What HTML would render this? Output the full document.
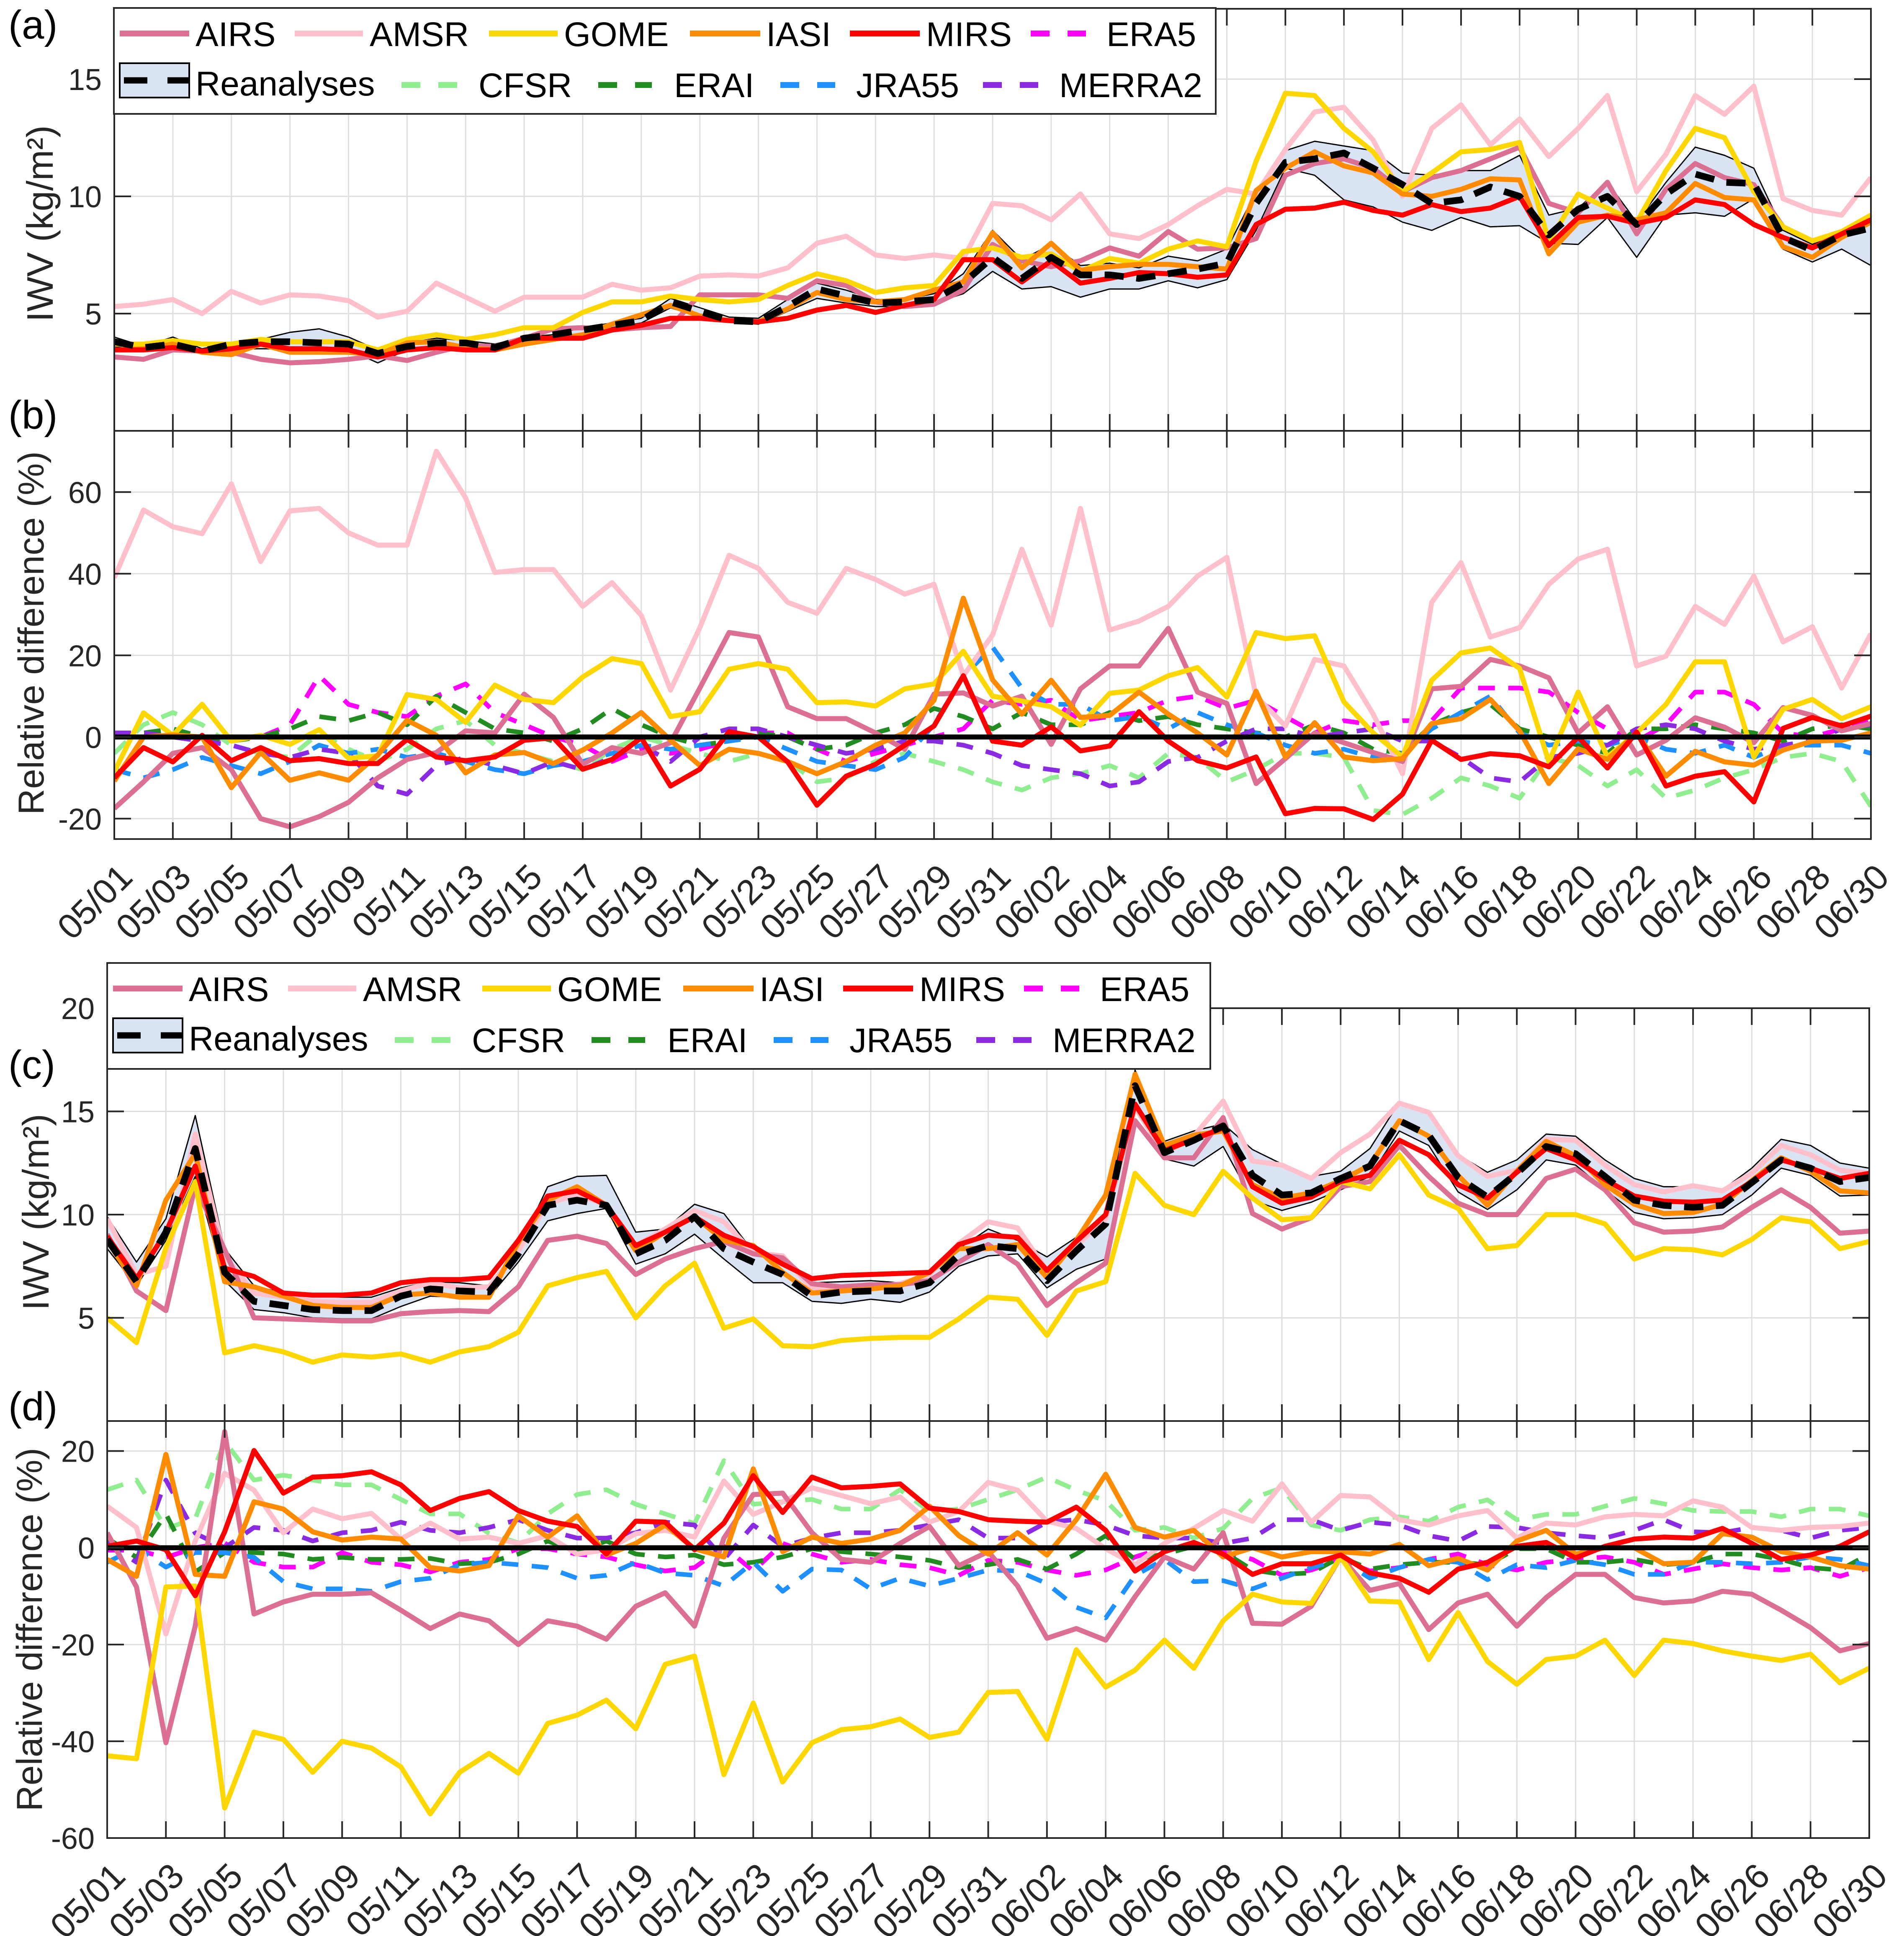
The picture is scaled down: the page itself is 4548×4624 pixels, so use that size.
<!DOCTYPE html>
<html><head><meta charset="utf-8"><title>IWV comparison</title>
<style>
html,body{margin:0;padding:0;background:#fff;}
svg{display:block;font-family:"Liberation Sans",Arial,sans-serif;}
</style></head>
<body>
<svg id="chart" width="4548" height="4624" viewBox="0 0 4548 4624" xmlns="http://www.w3.org/2000/svg">
<rect x="0" y="0" width="4548" height="4624" fill="#fff"/>
<g id="layer-data"></g>
<g id="layer-text" fill="#000">
<text x="20" y="92" font-size="96">(a)</text>
<text x="20" y="1024" font-size="96">(b)</text>
<text x="20" y="2576" font-size="96">(c)</text>
<text x="20" y="3392" font-size="96">(d)</text>
<text transform="translate(126,534) rotate(-90)" text-anchor="middle" font-size="88" fill="#262626">IWV (kg/m²)</text>
<text transform="translate(104,1512) rotate(-90)" text-anchor="middle" font-size="86" fill="#262626">Relative difference (%)</text>
<text transform="translate(116,2895) rotate(-90)" text-anchor="middle" font-size="88" fill="#262626">IWV (kg/m²)</text>
<text transform="translate(100,3892) rotate(-90)" text-anchor="middle" font-size="86" fill="#262626">Relative difference (%)</text>
</g>
</svg>
<script>
// ---------- data ----------
const dateLabels = ['05/01','05/03','05/05','05/07','05/09','05/11','05/13','05/15','05/17','05/19','05/21','05/23','05/25','05/27','05/29','05/31','06/02','06/04','06/06','06/08','06/10','06/12','06/14','06/16','06/18','06/20','06/22','06/24','06/26','06/28','06/30'];
const tickA = [5,10,15];
const tickB = [-20,0,20,40,60];
const tickC = [5,10,15,20];
const tickD = [-60,-40,-20,0,20];

// panel (a) IWV
const aAIRS = [3.15,3.05,3.45,3.4,3.35,3.05,2.9,2.95,3.05,3.2,3.0,3.35,3.65,3.6,3.95,4.35,4.4,4.3,4.4,4.45,5.8,5.8,5.8,5.65,6.4,6.2,5.5,5.3,5.4,6.0,7.95,7.25,7.0,7.25,7.8,7.45,8.5,7.75,7.8,8.2,10.9,11.4,11.6,11.2,10.2,10.8,11.1,11.6,12.1,9.7,9.3,10.6,8.4,10.3,11.4,10.8,10.5,8.7,8.1,8.5,9.0];
const aAMSR = [5.3,5.4,5.6,5.0,5.95,5.45,5.8,5.75,5.55,4.85,5.1,6.3,5.7,5.1,5.7,5.7,5.7,6.25,6.0,6.1,6.6,6.65,6.6,6.95,8.0,8.3,7.5,7.35,7.5,7.35,9.7,9.6,9.0,10.1,8.4,8.2,8.8,9.6,10.3,10.1,12.0,13.6,13.8,12.4,10.0,12.9,13.9,12.2,13.3,11.7,12.9,14.3,10.2,11.8,14.3,13.5,14.7,9.9,9.4,9.2,10.8];
const aGOME = [3.7,3.7,3.85,3.7,3.7,3.9,3.8,3.8,3.8,3.45,3.9,4.1,3.9,4.1,4.4,4.4,5.05,5.5,5.5,5.75,5.6,5.5,5.6,6.2,6.7,6.4,5.9,6.1,6.2,7.65,7.8,7.4,7.55,6.8,7.35,7.15,7.75,8.1,7.85,11.5,14.4,14.3,12.9,11.9,10.2,11.0,11.9,12.0,12.3,8.1,10.1,9.5,8.9,11.1,12.9,12.5,10.2,8.7,8.1,8.5,9.2];
const aIASI = [3.45,3.5,3.7,3.35,3.25,3.7,3.35,3.35,3.35,3.25,3.75,3.8,3.55,3.45,3.7,3.9,4.1,4.55,4.95,5.35,4.9,4.7,4.65,5.2,5.9,5.6,5.5,5.6,6.0,6.35,8.45,6.95,8.0,6.85,7.0,7.1,7.1,7.0,6.9,10.25,11.2,11.9,11.3,11.0,10.1,10.0,10.3,10.75,10.7,7.55,8.9,9.2,9.0,9.3,10.55,9.95,9.85,7.85,7.4,8.25,8.9];
const aMIRS = [3.45,3.45,3.55,3.4,3.5,3.7,3.5,3.5,3.45,3.15,3.45,3.55,3.45,3.45,3.95,3.95,3.95,4.3,4.5,4.8,4.8,4.7,4.65,4.8,5.15,5.35,5.05,5.35,5.6,7.3,7.3,6.35,7.25,6.3,6.5,6.75,6.7,6.55,6.65,8.8,9.45,9.5,9.75,9.4,9.2,9.65,9.35,9.5,10.0,7.9,9.1,9.15,8.85,9.1,9.85,9.65,8.8,8.25,7.8,8.4,9.0];
const aMean = [3.8,3.55,3.7,3.4,3.7,3.8,3.8,3.75,3.7,3.3,3.6,3.75,3.75,3.55,3.95,4.1,4.3,4.5,4.7,5.5,5.1,4.7,4.65,5.3,6.05,5.75,5.45,5.5,5.6,6.3,7.4,6.5,7.4,6.65,6.65,6.5,6.7,6.9,7.15,9.7,11.45,11.6,11.85,11.2,10.5,9.7,9.85,10.4,10.0,8.35,9.45,10.0,8.8,10.1,10.95,10.6,10.55,8.25,7.7,8.35,8.65];
const aMax = [4.0,3.6,4.0,3.5,3.75,3.9,4.2,4.35,4.0,3.45,3.75,3.95,3.85,3.7,4.0,4.1,4.4,4.6,4.8,5.65,5.25,4.85,4.8,5.6,6.3,6.0,5.6,5.6,5.85,6.7,8.55,7.3,7.95,7.05,7.15,6.95,7.45,7.25,7.75,10.2,11.95,12.35,12.15,11.95,11.0,10.9,11.1,11.1,11.75,9.2,9.5,10.6,8.9,10.6,12.1,11.75,11.2,8.55,7.95,8.5,9.0];
const aMin = [3.6,3.4,3.55,3.3,3.5,3.5,3.5,3.5,3.45,2.9,3.45,3.55,3.5,3.45,3.85,3.85,4.05,4.4,4.6,5.25,4.85,4.65,4.55,5.1,5.65,5.45,5.3,5.3,5.45,5.85,6.8,6.05,6.15,5.7,6.05,6.05,6.4,6.1,6.45,8.55,11.2,10.9,9.85,9.55,8.9,8.55,9.1,8.7,8.75,8.0,7.95,9.1,7.4,9.2,9.3,9.15,9.9,7.75,7.2,7.75,7.05];

// panel (b) relative difference (%)
const bAIRS = [-17.5,-11,-4,-2.6,-8,-20,-22,-19.5,-16,-10,-5.5,-3.8,1.5,1,10.5,4.8,-6.7,-2.6,-4,-1.4,12,25.6,24.5,7.4,4.5,4.5,1,-3,10.5,10.8,7.6,10,-1.8,11.8,17.4,17.4,26.6,11,8.2,-11.4,-5.3,1,-1.4,-3.8,-6,11.8,12.4,19,17.4,14.5,1,7.4,-4.4,-0.8,4.7,2.4,-1.4,7.2,5.3,1.5,3.3];
const bAMSR = [39,55.6,51.5,49.8,62,43,55.4,56,50,47,47,70,58.6,40.3,41,41,32,37.8,29.8,11.5,26.8,44.5,41.3,33,30.3,41.3,38.6,35,37.4,15,25,46,27.4,56,26.2,28.4,32,39.4,44,10,2.7,19,17.4,5.6,-9,33,42.7,24.5,26.8,37.4,43.6,46,17.4,19.8,32,27.6,39.4,23.3,27,12,25.3];
const bGOME = [-8.5,5.9,0.4,8,-1,0.4,-1.8,1.8,-5.2,-4.6,10.4,9.2,3.6,12.7,9.2,8.4,14.7,19.2,18,5,6.2,16.6,18,16.6,8.4,8.6,7.6,11.8,13,21,10,8.8,7.4,2.9,10.7,11.5,15,17,9.8,25.6,24.1,24.8,8.6,1,-4.9,13.9,20.6,21.8,16.8,-6.1,11,-4.9,1,8,18.4,18.4,-4.9,6.8,9.2,4.5,7.4];
const bIASI = [-10.8,0,0.5,0,-12.4,-3.8,-10.6,-8.8,-10.6,-4.4,4.1,0.4,-8.8,-4.4,-3.8,-6.5,-3.2,1,6,-0.8,-7,-3,-4,-6,-9,-6,-2,1,9,34,14,5.6,13.9,4.8,5.3,11,5.6,1,-4.4,11.2,-4.9,3.5,-4.9,-5.8,-5.3,3.3,4.5,9.2,1.5,-11.4,-2.9,-5.5,1,-9.6,-3.5,-6.1,-6.9,-3.2,-1,-0.8,1];
const bMIRS = [-10,-2.6,-6.1,0.4,-5.8,-2.6,-5.8,-5.3,-6.5,-6.5,-0.6,-4.9,-5.8,-4.9,-0.8,-0.2,-7.9,-5.5,-0.2,-12,-7.9,1.3,0,-6.1,-16.7,-9.6,-6.7,-2,2.7,15,-1,-2,2.5,-3.4,-2.2,6.2,-1,-5.8,-7.6,-4.9,-18.8,-17.5,-17.6,-20.2,-14,-0.8,-5.5,-4.1,-4.6,-7.3,0,-7.6,1.2,-12,-9.6,-8.5,-15.9,2.1,4.8,2.7,5.1];
const bERA5 = [0,1,0,-1,0,0,3,15,8,6,5,10,13,6,3,0,-2,-6,-3,-4,-3,-1,1,1,-3,-6,-4,-2,0,2,9,8,9,4,5,6,9,10,7,9,5,1,4,3,4,4,12,12,12,11,6,2,-1,3,11,11,8,1,0,2,4];
const bCFSR = [-4,3,6,3,-2,-4,-5,1,-3,-6,-3,2,4,-2,-4,-6,-8,-3,0,-2,-4,-6,-4,-6,-11,-10,-6,-4,-6,-8,-11,-13,-10,-9,-7,-10,-4,-5,-11,-8,-4,-4,-5,-18,-19,-15,-10,-12,-15,-5,-7,-12,-8,-15,-13,-10,-8,-5,-4,-6,-17];
const bERAI = [0,1,2,0,-1,0,2,5,4,6,3,10,6,2,1,-1,2,7,3,0,-2,-1,1,0,-3,-2,1,3,7,5,2,6,3,3,6,4,5,3,2,1,0,3,1,-3,-4,3,6,8,2,0,-2,-4,2,2,3,2,1,-1,2,3,2];
const bJRA55 = [-8,-10,-8,-5,-7,-9,-6,-2,-4,-3,-5,-4,-6,-8,-9,-7,-6,-4,-2,-3,-2,-1,0,-3,-6,-7,-8,-5,3,15,22,12,8,8,4,5,2,6,3,1,-2,-4,-3,-5,-4,2,6,10,1,-2,-1,-2,0,-3,-4,-2,-5,-2,-2,-2,-4];
const bMERRA2 = [1,1,0,-1,-2,-4,-5,-3,-4,-12,-14,-7,-5,-7,-9,-6,-8,-5,-2,-6,0,2,2,0,-2,-4,-3,-1,-1,-2,-4,-7,-8,-9,-12,-11,-6,-5,-1,2,2,0,1,2,-1,-1,-5,-10,-11,-5,-4,-2,2,3,2,-1,-3,-2,-1,2,3];

// panel (c) IWV
const cAIRS = [9.05,6.3,5.35,11.4,8.3,5.0,4.95,4.9,4.85,4.85,5.2,5.3,5.35,5.3,6.5,8.75,8.95,8.6,7.1,7.85,8.35,8.7,8.1,7.9,6.65,6.5,6.6,6.6,6.8,7.7,8.55,7.6,5.6,6.7,7.65,14.55,12.75,12.75,14.7,10.05,9.3,9.85,11.35,11.6,13.35,11.85,10.55,10.0,10.0,11.75,12.2,11.2,9.6,9.15,9.2,9.4,10.35,11.2,10.35,9.1,9.2];
const cAMSR = [9.8,7.1,7.5,13.9,8.0,6.2,6.0,5.8,5.75,5.75,6.3,6.7,6.45,6.5,8.25,10.55,10.95,10.5,8.5,9.3,10.2,9.65,8.15,8.0,6.4,6.45,6.5,6.65,7.1,8.6,9.65,9.35,7.3,8.5,9.8,15.2,12.95,13.8,15.5,12.6,12.4,11.75,13.0,13.9,15.4,14.95,12.85,11.85,12.15,13.65,13.6,12.4,11.45,11.1,11.4,11.15,12.0,13.35,12.9,12.15,12.0];
const cGOME = [5.0,3.8,8.4,11.6,3.3,3.65,3.35,2.85,3.2,3.1,3.25,2.85,3.35,3.6,4.3,6.55,6.95,7.25,5.0,6.55,7.65,4.5,4.95,3.65,3.6,3.9,4.0,4.05,4.05,4.95,6.0,5.9,4.15,6.3,6.75,12.0,10.45,10.0,12.1,10.8,9.75,9.85,11.6,11.25,12.9,10.95,10.3,8.35,8.5,10.0,10.0,9.55,7.85,8.35,8.3,8.05,8.8,9.85,9.65,8.35,8.7];
const cIASI = [8.75,6.55,10.7,12.95,6.75,6.5,6.05,5.6,5.5,5.5,6.1,6.2,6.0,6.0,8.65,10.7,11.35,10.45,8.25,9.15,9.9,8.75,8.5,7.2,6.2,6.3,6.4,6.55,7.2,8.35,8.35,8.55,6.95,8.75,10.95,16.8,13.35,13.85,14.05,11.45,10.8,11.05,11.65,12.4,14.55,13.8,11.9,10.45,12.1,13.55,12.85,11.45,10.5,10.05,10.1,10.5,11.65,12.75,12.1,11.15,11.05];
const cMIRS = [8.95,6.9,9.15,12.35,7.4,7.0,6.2,6.1,6.1,6.2,6.7,6.85,6.85,6.95,8.75,10.9,11.15,10.45,8.5,9.15,9.9,9.0,8.45,7.6,6.9,7.05,7.1,7.15,7.2,8.55,9.0,8.9,7.3,8.7,10.0,15.35,13.1,13.65,14.2,11.35,10.55,10.85,11.6,11.9,13.6,12.9,11.45,10.8,12.05,13.2,12.65,11.7,10.9,10.65,10.6,10.7,11.6,12.65,12.25,11.75,12.0];
const cMean = [8.8,6.75,9.15,13.2,7.2,5.8,5.6,5.4,5.35,5.35,6.05,6.4,6.3,6.25,8.1,10.45,10.7,10.45,8.1,8.75,9.9,8.35,7.7,7.1,6.05,6.25,6.3,6.3,6.7,8.05,8.5,8.35,6.8,8.25,9.55,16.25,13.0,13.6,14.3,11.9,10.95,11.05,11.75,12.35,14.55,13.85,11.8,10.85,12.0,13.3,12.95,11.85,10.7,10.45,10.35,10.45,11.55,12.65,12.25,11.6,11.8];
const cMax = [9.9,7.7,9.8,14.8,8.35,6.55,6.2,6.05,6.0,6.0,6.45,6.75,6.7,6.55,8.35,11.35,11.85,11.9,9.15,9.3,10.5,10.05,8.2,7.8,6.7,6.75,6.8,6.7,7.1,8.35,9.3,8.75,7.95,8.9,9.9,17.0,13.55,14.05,14.4,13.15,12.45,11.85,12.1,13.2,15.45,15.0,12.9,12.05,12.65,13.9,13.8,12.65,11.75,11.35,11.35,11.2,12.25,13.65,13.35,12.5,12.25];
const cMin = [8.35,6.55,8.75,11.85,6.8,5.4,5.25,5.0,4.95,4.95,5.55,6.05,6.0,6.0,7.7,9.7,10.05,10.3,7.6,8.1,9.05,7.85,6.7,6.7,5.8,5.7,5.9,5.75,6.25,7.5,8.0,8.1,6.45,7.35,7.85,15.1,12.7,12.35,13.3,10.7,10.2,10.6,11.2,11.85,14.05,13.35,11.1,10.25,11.2,12.65,12.4,11.2,10.1,9.8,9.85,10.0,10.95,12.25,11.9,10.9,10.95];

// panel (d) relative difference (%)
const dAIRS = [3.1,-8.1,-40.3,-16.2,24,-13.7,-11.2,-9.6,-9.6,-9.3,-12.9,-16.7,-13.7,-15.1,-20,-15.1,-16.2,-18.9,-12.1,-9.3,-16.2,2,11,11.3,3.1,-2.4,-3,0.9,4.4,-3.7,-0.8,-7.9,-18.7,-16.7,-19.1,-10.1,-1.9,-4.4,3.1,-15.6,-15.8,-12.1,-1.9,-8.8,-7.4,-16.9,-11.4,-9.6,-16.2,-10.3,-5.5,-5.5,-10.3,-11.4,-11,-9,-9.6,-12.9,-16.5,-21.3,-19.8];
const dAMSR = [8.6,4.2,-17.8,1.4,15.4,11.9,3.1,8,6,7.1,1.8,5.1,1.8,2.2,0.9,2.5,-1.3,-0.4,2.9,3.6,2.2,13.8,6.9,9.5,12.4,10.8,9.1,10.5,5.3,7.5,13.5,11.9,5.5,4,-0.2,-3.5,0.9,4,7.7,5.5,13.2,5.3,10.8,10.5,5.8,4.7,6.6,7.7,2,5.1,4.7,6.4,6.9,6.6,9.7,8.4,4.2,3.6,4.2,4.4,5.1];
const dGOME = [-43,-43.6,-8.1,-7.9,-53.8,-38.1,-39.6,-46.4,-40,-41.4,-45.3,-55,-46.4,-42.5,-46.6,-36.3,-34.6,-31.5,-37.4,-24.1,-22.4,-46.9,-32.1,-48.4,-40.3,-37.6,-37,-35.4,-39.2,-38.1,-29.9,-29.7,-39.6,-21.1,-28.8,-25.3,-19.1,-24.9,-15.1,-9.6,-11.2,-11.5,-1.9,-11,-11.2,-23.1,-13.4,-23.5,-28.2,-23.1,-22.4,-19.1,-26.4,-19.1,-19.8,-21.3,-22.4,-23.3,-22,-27.9,-24.9];
const dIASI = [-2.4,-5.9,19.3,-5.5,-5.9,9.5,8,3.3,1.6,2.2,1.8,-4.1,-4.8,-3.7,6.6,2.2,6.6,-1.5,0.9,4.7,-0.2,-1.9,16.3,-0.8,2.2,0.9,1.8,3.6,8.6,2.5,-1.3,3.1,-1.5,5.8,15.2,4.2,2.2,3.6,-1.9,0,-1.9,-0.8,-0.8,-1.3,0.7,-3.7,-2.2,-4.6,1.4,3.6,-1.3,0,0,-3.3,-3,2.9,2.2,-0.8,-1.9,-3.7,-4.4];
const dMIRS = [0.3,1.4,-0.4,-9.9,3.3,20.1,11.3,14.6,14.9,15.7,13,7.7,10.2,11.6,7.7,5.5,4.4,-1.3,5.5,5.3,-0.4,5.1,14.9,7.3,14.6,12.4,12.7,13.2,8.2,7.5,5.8,5.5,5.3,8.4,3.6,-4.8,-0.8,1.1,-1.3,-5.5,-3.3,-3.3,-1.5,-5.2,-6.3,-9.2,-4.4,-3,0.3,1.1,-2.1,0.3,1.8,2.2,2,4,0.9,-2.4,-1.5,0.3,3.3];
const dERA5 = [-0.5,-0.5,-2,0,1,-3,-4,-4,-1,-3,-3.5,-5,-3,-2.4,-0.2,-0.2,-1.3,-1.9,-3.5,-4.8,-4.1,0.3,-4.8,0.9,-1.3,-3,-2.4,-3.5,-4.1,-5.7,-2.6,-3,-4.6,-5.7,-4.6,-1.9,0,0.3,-0.8,-2.4,-5.7,-4.6,-2.4,-4.8,-4.1,-2.4,-1.3,-3.5,-4.6,-3,-2.4,-1.9,-3,-5.5,-4.4,-3.3,-4.1,-4.6,-4.1,-5.9,-4.1];
const dCFSR = [12,14,4,6,22,14,15,14,13,13,10,7,7,3,1,7,11,12,9,7,5,18,9,9.5,10,8,8,12,7.5,8,10,12,14.6,11.9,9.7,3.6,4.2,2,4,10.2,12.4,4.7,3.6,5.8,6.4,5.5,8.4,9.9,5.8,6.9,6.9,8.6,10.2,9.1,7.7,7.5,7.5,6.4,8,8,6.6];
const dERAI = [2,-2,7,-5,-1,-1,-1.3,-2.4,-2,-2.4,-2.4,-2.2,-3.3,-3,-1.3,1.4,-0.8,1.4,-1.3,-1.9,-1.5,-3.5,-3,-1.9,-0.2,-0.8,-1.3,-1.9,-2.6,-4.1,-3.5,-2.4,-4.4,-1.3,2.5,-2.4,-1.3,0.3,-0.8,-4.6,-5.5,-5.2,-1.9,-4.4,-3.5,-3,-3,-3.5,-0.2,-0.2,-3,-3,-2.4,-3.5,-3,-1.3,-1.3,-2.4,-4.1,-4.6,-1.3];
const dJRA55 = [-3,0,-4,-1,-1,-2,-7,-8.5,-8.5,-9,-7,-6.3,-3.5,-3,-3.5,-4.1,-6.3,-5.7,-3,-5.2,-5.7,-7.9,-3,-9,-4.4,-4.6,-8.5,-6.3,-7.9,-6.3,-4.6,-4.8,-7.4,-12.3,-14.5,-5.7,-2.4,-7,-6.8,-8.5,-6.3,-4.1,-2.4,-6.3,-4.1,-2.4,-3,-6.6,-3.5,-4.1,-2.6,-3.5,-5.5,-5.5,-3,-3,-3.3,-3,-1.9,-2.4,-3.7];
const dMERRA2 = [1,-3,14,3,0,4.2,3.6,1.4,3.1,3.6,5.3,3.6,3.1,4.2,5.8,3.6,2,2,3.1,5.3,4.7,-2.4,4.7,0.3,2,3.1,3.1,3.6,4.7,5.8,2,2,5.3,5.8,4.7,2.5,2,2,0.9,2,5.8,5.8,3.6,5.3,4.7,2.5,1.4,4.4,4.2,3.1,2.5,2,3.6,5.8,3.3,3.1,4.2,3.6,2,3.6,4.2];

// ---------- drawing ----------
const NS = 'http://www.w3.org/2000/svg';
const root = document.getElementById('layer-data');
function mk(tag, attrs, parent) {
  const e = document.createElementNS(NS, tag);
  for (const k in attrs) e.setAttribute(k, attrs[k]);
  (parent || root).appendChild(e);
  return e;
}
const COL = {AIRS:'#DB7093', AMSR:'#FFC0CB', GOME:'#FFD700', IASI:'#FF8C00', MIRS:'#FF0000',
  ERA5:'#FF00FF', CFSR:'#90EE90', ERAI:'#228B22', JRA55:'#1E90FF', MERRA2:'#8A2BE2'};
const PA = {id:'a', L:273, R:4469, T:21, B:1029, y0:0, y1:18, ticks:tickA, dates:false};
const PB = {id:'b', L:273, R:4469, T:1029, B:2004, y0:-25, y1:75, ticks:tickB, dates:true};
const PC = {id:'c', L:256, R:4465, T:2408, B:3394, y0:0, y1:20, ticks:tickC, dates:false};
const PD = {id:'d', L:256, R:4465, T:3394, B:4390, y0:-60, y1:26.2, ticks:tickD, dates:true};
const NDAYS = 60;
function xs(P, d) { return P.L + (P.R - P.L) * d / NDAYS; }
function ys(P, v) { return P.B - (P.B - P.T) * (v - P.y0) / (P.y1 - P.y0); }

const defs = mk('defs', {});
function panelGroup(P) {
  const cp = mk('clipPath', {id:'clip-' + P.id}, defs);
  mk('rect', {x:P.L, y:P.T, width:P.R - P.L, height:P.B - P.T}, cp);
  const g = mk('g', {});
  
  
  return g;
}
function grid(P, g) {
  const gg = mk('g', {stroke:'#dedede', 'stroke-width':3}, g);
  
  
  for (let i = 0; i < dateLabels.length; i++) {
    const x = xs(P, 2 * i);
    mk('line', {x1:x, x2:x, y1:P.T, y2:P.B}, gg);
  }
  P.ticks.forEach(v => {
    const y = ys(P, v);
    mk('line', {x1:P.L, x2:P.R, y1:y, y2:y}, gg);
  });
}
function series(P, g, vals, color, width, dash, name) {
  const pts = vals.map((v, d) => xs(P, d).toFixed(1) + ',' + ys(P, v).toFixed(1)).join(' ');
  const a = {points:pts, fill:'none', stroke:color, 'stroke-width':width, 'stroke-linejoin':'round', 'clip-path':'url(#clip-' + P.id + ')'};
  if (dash) a['stroke-dasharray'] = dash;
  const pl = mk('polyline', a, g);
  
  
}
function band(P, g, lo, hi, name) {
  let pts = hi.map((v, d) => xs(P, d).toFixed(1) + ',' + ys(P, v).toFixed(1));
  for (let d = lo.length - 1; d >= 0; d--) pts.push(xs(P, d).toFixed(1) + ',' + ys(P, lo[d]).toFixed(1));
  const pg = mk('polygon', {points:pts.join(' '), fill:'#DAE3F3', stroke:'none', 'clip-path':'url(#clip-' + P.id + ')'}, g);
  
  
  series(P, g, hi, '#000', 3, null, name + '-upper-edge');
  series(P, g, lo, '#000', 3, null, name + '-lower-edge');
}
function axes(P, g) {
  const ag = mk('g', {stroke:'#262626', 'stroke-width':4, fill:'none'}, g);
  
  
  mk('rect', {x:P.L, y:P.T, width:P.R - P.L, height:P.B - P.T}, ag);
  for (let i = 0; i < dateLabels.length; i++) {
    const x = xs(P, 2 * i);
    mk('line', {x1:x, x2:x, y1:P.B, y2:P.B - 40}, ag);
    mk('line', {x1:x, x2:x, y1:P.T, y2:P.T + 40}, ag);
  }
  const tg = mk('g', {fill:'#262626', 'font-size':72, 'text-anchor':'end'}, g);
  
  
  P.ticks.forEach(v => {
    const y = ys(P, v);
    mk('line', {x1:P.L, x2:P.L + 40, y1:y, y2:y}, ag);
    mk('line', {x1:P.R, x2:P.R - 40, y1:y, y2:y}, ag);
    const t = mk('text', {x:P.L - 30, y:y + 26}, tg);
    t.textContent = String(v);
    
    
  });
  if (P.dates) {
    const dg = mk('g', {fill:'#262626', 'font-size':84, 'text-anchor':'end'}, g);
    
    
    dateLabels.forEach((lab, i) => {
      const x = xs(P, 2 * i) + 48, y = P.B + 96;
      const t = mk('text', {transform:'translate(' + x.toFixed(1) + ',' + y + ') rotate(-45)'}, dg);
      t.textContent = lab;
      
      
    });
  }
}
function zeroLine(P, g) {
  const y = ys(P, 0);
  const l = mk('line', {x1:P.L, x2:P.R, y1:y, y2:y, stroke:'#000', 'stroke-width':12}, g);
  
  
}
const LW = 12, RLW = 11, RDASH = '40 32', MDASH = '46 30';
function ivPanel(P, S) {
  const g = panelGroup(P);
  grid(P, g);
  band(P, g, S.min, S.max, 'reanalyses-band-' + P.id);
  series(P, g, S.AMSR, COL.AMSR, LW, null, 'amsr-line-' + P.id);
  series(P, g, S.AIRS, COL.AIRS, LW, null, 'airs-line-' + P.id);
  series(P, g, S.GOME, COL.GOME, LW, null, 'gome-line-' + P.id);
  series(P, g, S.IASI, COL.IASI, LW, null, 'iasi-line-' + P.id);
  series(P, g, S.MIRS, COL.MIRS, LW, null, 'mirs-line-' + P.id);
  series(P, g, S.mean, '#000', 16, MDASH, 'reanalyses-mean-line-' + P.id);
  axes(P, g);
}
function rdPanel(P, S) {
  const g = panelGroup(P);
  grid(P, g);
  series(P, g, S.ERA5, COL.ERA5, RLW, RDASH, 'era5-line-' + P.id);
  series(P, g, S.CFSR, COL.CFSR, RLW, RDASH, 'cfsr-line-' + P.id);
  series(P, g, S.ERAI, COL.ERAI, RLW, RDASH, 'erai-line-' + P.id);
  series(P, g, S.JRA55, COL.JRA55, RLW, RDASH, 'jra55-line-' + P.id);
  series(P, g, S.MERRA2, COL.MERRA2, RLW, RDASH, 'merra2-line-' + P.id);
  series(P, g, S.AMSR, COL.AMSR, LW, null, 'amsr-line-' + P.id);
  series(P, g, S.AIRS, COL.AIRS, LW, null, 'airs-line-' + P.id);
  series(P, g, S.GOME, COL.GOME, LW, null, 'gome-line-' + P.id);
  series(P, g, S.IASI, COL.IASI, LW, null, 'iasi-line-' + P.id);
  series(P, g, S.MIRS, COL.MIRS, LW, null, 'mirs-line-' + P.id);
  zeroLine(P, g);
  axes(P, g);
}
function legend(dx, dy, w, name) {
  const g = mk('g', {transform:'translate(' + dx + ',' + dy + ')'});
  
  
  mk('rect', {x:272, y:19, width:w, height:253, fill:'#fff', stroke:'#262626', 'stroke-width':4}, g);
  const solid = [['AIRS',286,452,467],['AMSR',704,867,883],['GOME',1168,1332,1347],['IASI',1648,1816,1830],['MIRS',2030,2197,2212]];
  solid.forEach(s => {
    const l = mk('line', {x1:s[1], x2:s[2], y1:80, y2:80, stroke:COL[s[0]], 'stroke-width':14}, g);
    
    
    const t = mk('text', {x:s[3], y:110, 'font-size':82}, g);
    t.textContent = s[0];
    
    
  });
  const dashed = [['ERA5',2462,2594,2643,80,110],['CFSR',959,1092,1143,203,232],['ERAI',1429,1557,1610,203,232],['JRA55',1864,1995,2045,203,232],['MERRA2',2348,2480,2530,203,232]];
  dashed.forEach(s => {
    const l = mk('line', {x1:s[1], x2:s[2], y1:s[4], y2:s[4], stroke:COL[s[0]], 'stroke-width':14, 'stroke-dasharray':'45 43'}, g);
    
    
    const t = mk('text', {x:s[3], y:s[5], 'font-size':82}, g);
    t.textContent = s[0];
    
    
  });
  const p = mk('rect', {x:286, y:151, width:166, height:82, fill:'#DAE3F3', stroke:'#000', 'stroke-width':4}, g);
  
  
  mk('line', {x1:296, x2:454, y1:192, y2:192, stroke:'#000', 'stroke-width':15, 'stroke-dasharray':'56 48'}, g);
  const t = mk('text', {x:467, y:228, 'font-size':82}, g);
  t.textContent = 'Reanalyses';
  
  
}

ivPanel(PA, {AIRS:aAIRS, AMSR:aAMSR, GOME:aGOME, IASI:aIASI, MIRS:aMIRS, mean:aMean, max:aMax, min:aMin});
rdPanel(PB, {AIRS:bAIRS, AMSR:bAMSR, GOME:bGOME, IASI:bIASI, MIRS:bMIRS, ERA5:bERA5, CFSR:bCFSR, ERAI:bERAI, JRA55:bJRA55, MERRA2:bMERRA2});
ivPanel(PC, {AIRS:cAIRS, AMSR:cAMSR, GOME:cGOME, IASI:cIASI, MIRS:cMIRS, mean:cMean, max:cMax, min:cMin});
rdPanel(PD, {AIRS:dAIRS, AMSR:dAMSR, GOME:dGOME, IASI:dIASI, MIRS:dMIRS, ERA5:dERA5, CFSR:dCFSR, ERAI:dERAI, JRA55:dJRA55, MERRA2:dMERRA2});
legend(0, 0, 2632, 'legend-top');
legend(-16, 2281, 2635, 'legend-bottom');
</script>
</body></html>
